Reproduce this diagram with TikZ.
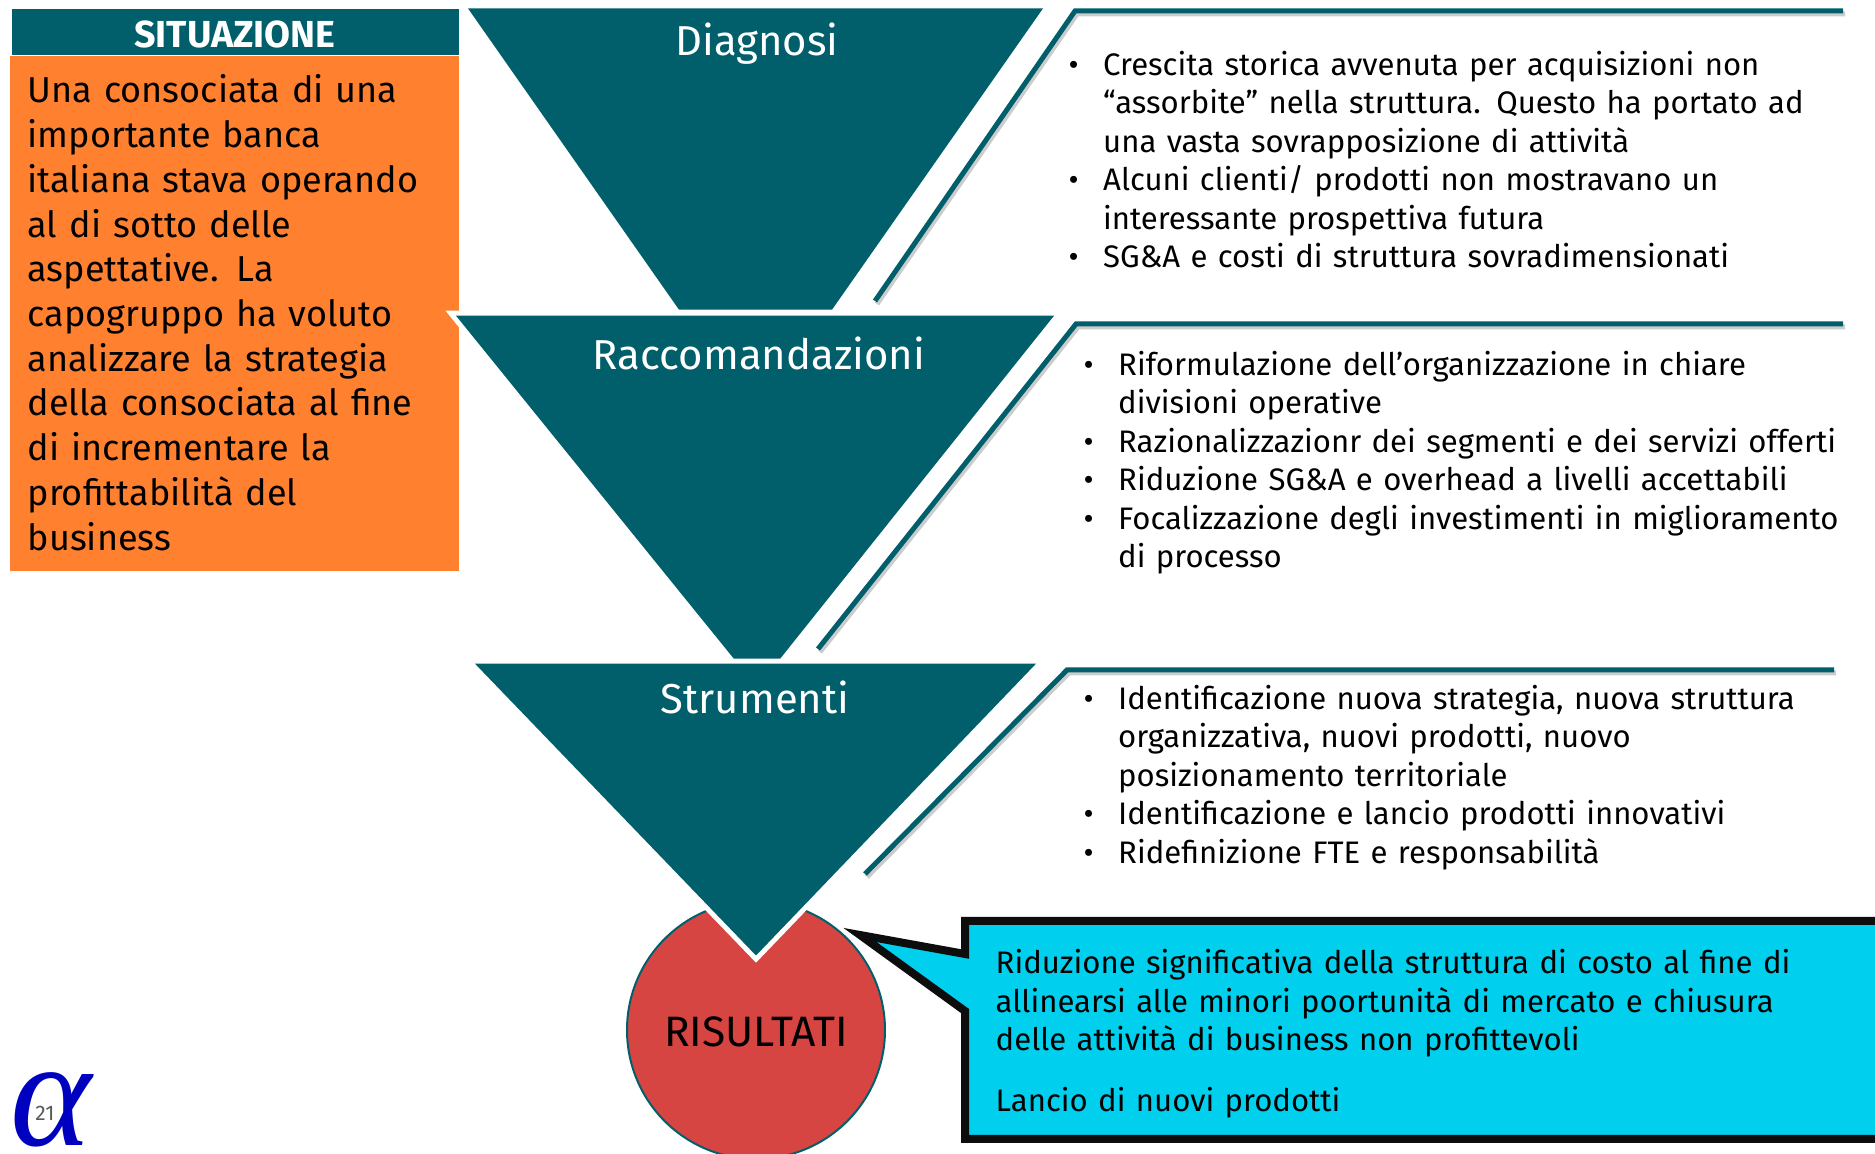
\documentclass[tikz,border=0pt]{standalone}
\usepackage{fontspec}
\setmainfont{Fira Sans}
\newfontfamily\alphafont{Liberation Serif}
\definecolor{petrolio}{HTML}{005F6B}
\definecolor{arancio}{HTML}{FF8130}
\definecolor{rosso}{HTML}{D64541}
\definecolor{ciano}{HTML}{00CFEE}
\newcommand{\voce}[1]{
  % bullet hanging left of the text
  \par\noindent\hangindent=.345cm\hangafter=1\makebox[.345cm][l]{\textbullet}#1\par
}
\newcommand{\imbuto}[4]{
  % teal funnel with a white rim
  \fill[petrolio, preaction={draw=white, line width=.1cm, miter limit=10}] #1 -- #2 -- #3 -- #4 -- cycle;
}
\newcommand{\barra}[3]{
  % rule with its slanted leg and a grey shadow
  \draw[black!20, line width=.05cm, transform canvas={xshift=.02cm, yshift=-.03cm}] #1 -- #2 -- #3;
  \draw[petrolio, line width=.05cm] #1 -- #2 -- #3;
}

\begin{document}
\begin{tikzpicture}[
        titolo/.style={text=white, inner sep=0pt, font={\fontsize{11.9pt}{14pt}\selectfont}},
        lista/.style={anchor=north west, inner sep=0pt, text width=8.4cm, align=left,
            font={\fontsize{8.85pt}{10.96pt}\selectfont}},
        ]
        \useasboundingbox (0, 0) rectangle (18.75, 11.54);

        % Situation panel
        \fill[petrolio] (0.12, 10.99) rectangle (4.59, 11.45);
        \fill[arancio] (0.10, 5.83) rectangle (4.59, 10.98);
        \node[text=white, inner sep=0pt, font={\fontsize{10.7pt}{12pt}\bfseries\selectfont}] (situazione) at (2.35, 11.2) {SITUAZIONE};
        \node[anchor=north west, inner sep=0pt, text width=4.3cm, align=left,
            font={\fontsize{10.25pt}{12.73pt}\selectfont}] (testosituazione) at (0.27, 10.80) {Una consociata di una\\
            importante banca\\ italiana stava operando\\ al di sotto delle\\ aspettative. La\\
            capogruppo ha voluto\\ analizzare la strategia\\ della consociata al fine\\
            di incrementare la\\ profittabilità del\\ business};

        % Result circle
        \draw[petrolio, fill=rosso, line width=.02cm] (7.56, 1.24) circle [radius=1.29];
        \node[inner sep=0pt, font={\fontsize{12.1pt}{14pt}\selectfont}] (risultati) at (7.56, 1.22) {RISULTATI};

        % Funnels
        \imbuto{(4.68, 11.456)}{(10.43, 11.456)}{(8.32, 8.443)}{(6.79, 8.443)}
        \imbuto{(4.56, 8.383)}{(10.54, 8.383)}{(7.80, 4.951)}{(7.34, 4.951)}
        \imbuto{(4.75, 4.903)}{(10.36, 4.903)}{(7.56, 1.985)}{(7.56, 1.985)}
        \node[titolo] (diagnosi) at (7.57, 11.10) {Diagnosi};
        \node[titolo] (raccomandazioni) at (7.59, 8.01) {Raccomandazioni};
        \node[titolo] (strumenti) at (7.55, 4.57) {Strumenti};

        % Rules
        \barra{(18.43, 11.43)}{(10.75, 11.43)}{(8.75, 8.53)}
        \barra{(18.43, 8.30)}{(10.76, 8.30)}{(8.18, 5.05)}
        \barra{(18.34, 4.84)}{(10.67, 4.84)}{(8.65, 2.80)}

        % Bullet lists
        \node[lista] (listadiagnosi) at (10.68, 11.18) {
            \voce{Crescita storica avvenuta per acquisizioni non\newline “assorbite” nella struttura. Questo ha portato ad\newline una vasta sovrapposizione di attività}
            \voce{Alcuni clienti/ prodotti non mostravano un\newline interessante prospettiva futura}
            \voce{SG\&A e costi di struttura sovradimensionati}
        };
        \node[lista] (listaraccomandazioni) at (10.83, 8.18) {
            \voce{Riformulazione dell’organizzazione in chiare\newline divisioni operative}
            \voce{Razionalizzazionr dei segmenti e dei servizi offerti}
            \voce{Riduzione SG\&A e overhead a livelli accettabili}
            \voce{Focalizzazione degli investimenti in miglioramento\newline di processo}
        };
        \node[lista] (listastrumenti) at (10.83, 4.84) {
            \voce{Identificazione nuova strategia, nuova struttura\newline organizzativa, nuovi prodotti, nuovo\newline posizionamento territoriale}
            \voce{Identificazione e lancio prodotti innovativi}
            \voce{Ridefinizione FTE e responsabilità}
        };

        % Callout
        \draw[black!95, fill=ciano, line width=.08cm, miter limit=10]
            (9.65, 2.00) -- (8.60, 2.19) -- (9.65, 1.43) -- (9.65, 0.15) -- (18.95, 0.15) -- (18.95, 2.33) -- (9.65, 2.33) -- cycle;
        \node[lista] (testorisultati) at (9.95, 2.05) {Riduzione significativa della struttura di costo al fine di\\
            allinearsi alle minori poortunità di mercato e chiusura\\
            delle attività di business non profittevoli\\[.22cm]
            Lancio di nuovi prodotti};

        % Logo
        \node[inner sep=0pt, text=blue!75!black, font={\fontsize{44pt}{44pt}\alphafont\itshape\selectfont}] (logo) at (0.51, 0.44) {α};
        \node[inner sep=0pt, text=black!65, font={\fontsize{6pt}{7pt}\selectfont}] (pagina) at (0.45, 0.41) {21};
    \end{tikzpicture}
\end{document}
